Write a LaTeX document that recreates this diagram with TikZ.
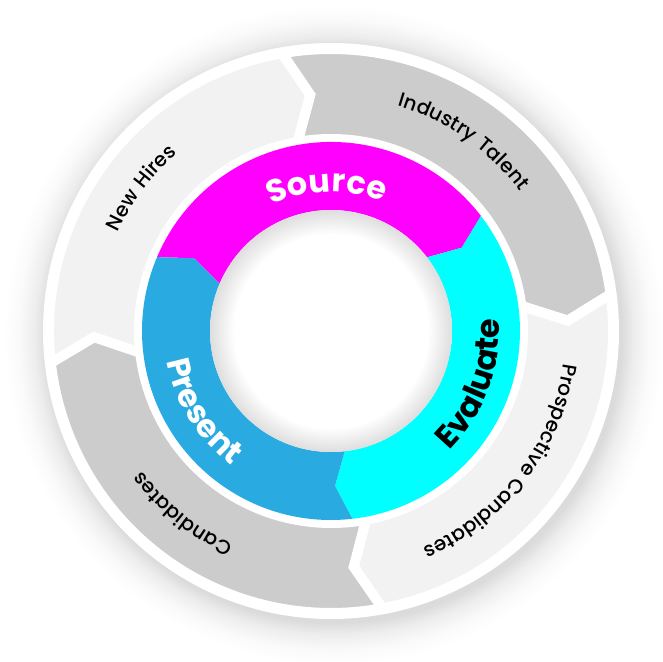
\documentclass[tikz,border=0pt]{standalone}
\usepackage{fontspec}
\setmainfont{Poppins}
\newfontfamily\stagefont[LetterSpace=4]{Poppins}
\newfontfamily\poolfont[UprightFont=* Medium, LetterSpace=6]{Poppins}
\usetikzlibrary{decorations.text}

\definecolor{sourcemag}{HTML}{FF00FF}
\definecolor{evalcyan}{HTML}{00FFFF}
\definecolor{presentblue}{HTML}{29ABE2}
\definecolor{pooldark}{HTML}{CCCCCC}
\definecolor{poollight}{HTML}{F2F2F2}

% soft glow round the disc and the shaded hole
\pgfdeclareradialshading{glowshade}{\pgfpoint{0bp}{0bp}}{color(0bp)=(black!18); color(21.8bp)=(black!14); color(22.7bp)=(black!7); color(23.9bp)=(black!2); color(25bp)=(white); color(50bp)=(white)}
\pgfdeclareradialshading{holeshade}{\pgfpoint{0bp}{0bp}}{color(0bp)=(white); color(20bp)=(white); color(25bp)=(black!13); color(50bp)=(black!13)}

\newcommand{\poolsize}{\fontsize{20}{20}\selectfont}
\newcommand{\stagesize}{\fontsize{32}{32}\selectfont\bfseries}

\begin{document}
\begin{tikzpicture}[x=1pt, y=1pt,
  poolseg/.style={draw=white, line width=10pt, line join=miter},
  poollabel/.style={decorate, decoration={text along path, text align=center,
    text={|\poolfont\poolsize|#1}}},
  stagelabel/.style={decorate, decoration={text along path, text align=center,
    text={|\stagefont\stagesize|#1}}},
  whitelabel/.style={decorate, decoration={text along path, text align=center,
    text={|\stagefont\stagesize\color{white}|#1}}}
]
\fill[white] (-331,-331) rectangle (331,331);
\useasboundingbox (-331,-331) rectangle (331,331);
\shade[shading=glowshade] (3,-4) circle (330);
\fill[white] (0,0) circle (288);

% outer ring of pools, clockwise
\foreach \a/\b/\col in {186.5/100/poollight, 100/7.5/pooldark,
    7.5/-79.5/poollight, -79.5/-173.5/pooldark}
  \draw[poolseg, fill=\col] (\a:282) arc[start angle=\a, end angle=\b, radius=282]
    -- ({\b-5}:237) -- (\b:192) arc[start angle=\b, end angle=\a, radius=192]
    -- ({\a-5}:237) -- cycle;

% inner ring of stages
\foreach \a/\b/\col in {157/37.5/sourcemag, 37.5/-83.5/evalcyan,
    -83.5/-203/presentblue}
  \fill[\col] (\a:189) arc[start angle=\a, end angle=\b, radius=189]
    -- ({\b-5}:155) -- (\b:121) arc[start angle=\b, end angle=\a, radius=121]
    -- ({\a-5}:155) -- cycle;

\shade[shading=holeshade] (0,0) circle (121);

% labels
\path[poollabel={New Hires}] (183:235) arc[start angle=183, end angle=103, radius=235];
\path[poollabel={Industry Talent}] (95:235) arc[start angle=95, end angle=15, radius=235];
\path[poollabel={Prospective Candidates}] (2.5:235) arc[start angle=2.5, end angle=-77.5, radius=235];
\path[poollabel={Candidates}] (271:235) arc[start angle=271, end angle=191, radius=235];

\path[whitelabel={Source}] (131.7:139) arc[start angle=131.7, end angle=51.7, radius=139];
\path[stagelabel={Evaluate}] (-60.5:168) arc[start angle=-60.5, end angle=19.5, radius=168];
\path[whitelabel={Present}] (172:167) arc[start angle=172, end angle=252, radius=167];
\end{tikzpicture}
\end{document}
